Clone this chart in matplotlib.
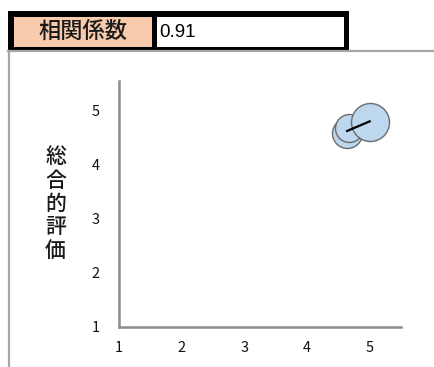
import matplotlib
matplotlib.use('Agg')
import matplotlib.pyplot as plt
import matplotlib.patches as mpatches
import numpy as np

plt.rcParams['font.family'] = ['Noto Sans CJK JP', 'DejaVu Sans']

# data
x_vals = [4.64, 4.67, 5.0]
y_vals = [4.59, 4.68, 4.80]
bubble_diam = [15, 14, 19]          # relative bubble sizes
corr_label = '相関係数'
corr_value = '0.91'
y_title = '総合的評価'
ticks = [1, 2, 3, 4, 5]

W, H = 435, 367
fig = plt.figure(figsize=(W / 100, H / 100), dpi=100, facecolor='white')

# overlay in pixel coordinates for the sheet-like frame and header cells
ov = fig.add_axes([0, 0, 1, 1])
ov.set_xlim(0, W)
ov.set_ylim(H, 0)
ov.axis('off')
ov.plot([8, W], [51, 51], color='#A6A6A6', linewidth=1.6)
ov.plot([9.5, 9.5], [51, H], color='#A6A6A6', linewidth=1.6)
ov.add_patch(mpatches.Rectangle((8, 11), 341, 39, facecolor='black', edgecolor='none'))
ov.add_patch(mpatches.Rectangle((14, 16.5), 138, 30, facecolor='#F8CBAD', edgecolor='none'))
ov.add_patch(mpatches.Rectangle((157.5, 16.5), 187, 30, facecolor='white', edgecolor='none'))
ov.text(83, 31.5, corr_label, fontsize=16, ha='center', va='center', color='#1a1a1a',
        fontweight='medium')
ov.text(159, 32.5, corr_value, fontsize=13.5, ha='left', va='center', color='black',
        family=['Liberation Sans', 'DejaVu Sans'])
ov.text(55.5, 204, '\n'.join(y_title), fontsize=15, ha='center', va='center',
        linespacing=1.08, fontweight='medium', color='#1a1a1a')

# scatter area
ax = fig.add_axes([119 / W, (H - 327) / H, (401 - 119) / W, (327 - 81) / H])
ax.set_xlim(1, 5.5)
ax.set_ylim(1, 5.55)

sizes = (np.array(bubble_diam) * 1.44) ** 2
for i in range(len(x_vals)):
    ax.scatter(x_vals[i], y_vals[i], s=sizes[i], facecolor='#BDD7EE',
               edgecolor='#6B6B6B', linewidth=1.0, zorder=3 + i)

slope, icpt = np.polyfit(x_vals, y_vals, 1)
xs = np.array([min(x_vals), max(x_vals)])
ax.plot(xs, slope * xs + icpt, color='black', linewidth=1.6, zorder=10)

ax.set_xticks(ticks)
ax.set_yticks(ticks)
ax.tick_params(length=0, labelsize=10.5, colors='#111111')
ax.tick_params(axis='x', pad=10)
ax.tick_params(axis='y', pad=14)
ax.spines[['top', 'right']].set_visible(False)
for s in ['left', 'bottom']:
    ax.spines[s].set_color('#8C8C8C')
    ax.spines[s].set_linewidth(1.8)
ax.set_facecolor('none')

fig.savefig('out.png', dpi=100, facecolor='white')
